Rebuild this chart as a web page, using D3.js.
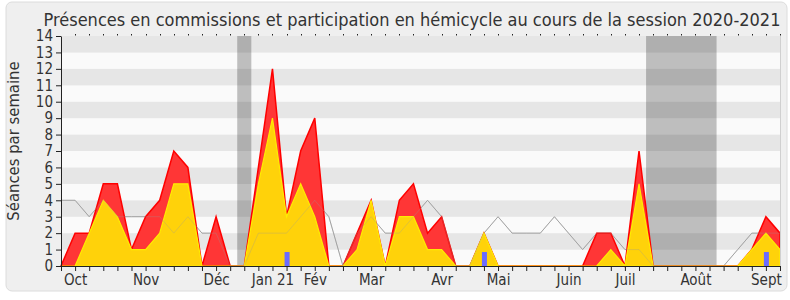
<!DOCTYPE html>
<html lang="fr">
<head>
<meta charset="UTF-8" />
<title>Présences 2020-2021</title>
<script src="https://cdn.jsdelivr.net/npm/d3@7"></script>
<style>
  body { margin: 0; background: #fff; }
  svg text { font-family: "DejaVu Sans Condensed", "DejaVu Sans", sans-serif; font-stretch: condensed; fill: #333; }
</style>
</head>
<body>
<svg id="chart" width="790" height="300"></svg>
<script>
// one value per week, week 0 = start of October 2020
var presences   = [0,2,2,5,5,1,3,4,7,6,0,3,0,0,6,12,3,7,9,0,0,2,4,0,4,5,2,3,0,0,2,0,0,0,0,0,0,0,2,2,0,7,0,0,0,0,0,0,0,1,3,2];
var commissions = [0,0,2,4,3,1,1,2,5,5,0,0,0,0,5,9,3,5,3,0,0,1,4,0,3,3,1,1,0,0,2,0,0,0,0,0,0,0,0,1,0,5,0,0,0,0,0,0,0,1,2,1];
var mediane     = [4,4,3,4,3,3,3,3,2,3,2,2,0,0,2,2,2,3,4,3,0,2,3,2,2,3,4,3,0,0,2,3,2,2,2,3,2,1,2,2,1,1,0,0,0,0,0,0,1,2,2,2];

var questionWeeks  = [16, 30, 50];
var questionValues = [0.85, 0.85, 0.85];

var vacancesDebut = [12.5, 41.5];
var vacancesFin   = [13.5, 46.5];

var monthLabels = ["Oct", "Nov", "Déc", "Jan 21", "Fév", "Mar", "Avr", "Mai", "Juin", "Juil", "Août", "Sept"];
var monthWeeks  = [1, 6, 11, 15, 18, 22, 27, 31, 36, 40, 45, 50];

var yTicks = d3.range(0, 15);

// sizes
var pLeft = 61, pRight = 780, pTop = 36, pBottom = 266;

var svg = d3.select("#chart");

// outer panel
svg.append("rect")
  .attr("x", 6).attr("y", 2)
  .attr("width", 781).attr("height", 289)
  .attr("rx", 6)
  .attr("fill", "#efefef")
  .attr("stroke", "#dcdcdc");

var xScale = d3.scaleLinear().domain([0, presences.length - 1]).range([pLeft, pRight]);
var yScale = d3.scaleLinear().domain([0, 14]).range([pBottom, pTop]);

// stripes
svg.append("g").selectAll("rect")
  .data(d3.range(0, 14))
  .enter().append("rect")
  .attr("x", pLeft)
  .attr("width", pRight - pLeft)
  .attr("y", function(d) { return yScale(d + 1); })
  .attr("height", function(d) { return yScale(d) - yScale(d + 1); })
  .attr("fill", function(d) { return d % 2 ? "#e6e6e6" : "#fafafa"; });

// holidays
svg.append("g").selectAll("rect")
  .data(vacancesDebut)
  .enter().append("rect")
  .attr("x", function(d) { return xScale(d); })
  .attr("width", function(d, i) { return xScale(vacancesFin[i]) - xScale(d); })
  .attr("y", pTop)
  .attr("height", pBottom - pTop)
  .attr("fill", "#000")
  .attr("fill-opacity", 0.24);

// median line (under the areas, and a faint copy on top)
var line = d3.line()
  .x(function(d, i) { return xScale(i); })
  .y(function(d) { return yScale(d); });

svg.append("path")
  .datum(mediane)
  .attr("d", line)
  .attr("fill", "none")
  .attr("stroke", "#a8a8a8")
  .attr("stroke-width", 1);

// areas
var area = d3.area()
  .x(function(d, i) { return xScale(i); })
  .y0(yScale(0))
  .y1(function(d) { return yScale(d); });

svg.append("path")
  .datum(presences)
  .attr("d", area)
  .attr("fill", "#ff3636")
  .attr("stroke", "#ff0000")
  .attr("stroke-width", 1.5);

svg.append("path")
  .datum(commissions)
  .attr("d", area)
  .attr("fill", "#ffd20a")
  .attr("stroke", "#ffec00")
  .attr("stroke-width", 1.2);

svg.append("path")
  .datum(mediane)
  .attr("d", line)
  .attr("fill", "none")
  .attr("stroke", "#999")
  .attr("stroke-opacity", 0.3)
  .attr("stroke-width", 1);

// questions
svg.append("g").selectAll("rect")
  .data(questionWeeks)
  .enter().append("rect")
  .attr("x", function(d) { return xScale(d) - 2; })
  .attr("width", 5)
  .attr("y", function(d, i) { return yScale(questionValues[i]); })
  .attr("height", function(d, i) { return yScale(0) - yScale(questionValues[i]); })
  .attr("fill", "#6b6bff");

// right border
svg.append("line")
  .attr("x1", pRight + 0.5).attr("x2", pRight + 0.5)
  .attr("y1", pTop).attr("y2", pBottom)
  .attr("stroke", "#d0d0d0");

// top dots
svg.append("g").selectAll("rect")
  .data(d3.range(1, presences.length))
  .enter().append("rect")
  .attr("x", function(d) { return Math.round(xScale(d)); })
  .attr("y", pTop - 2)
  .attr("width", 1).attr("height", 1.5)
  .attr("fill", "#222");

// axes
var xAxis = d3.axisBottom(xScale)
  .tickValues(d3.range(0, presences.length))
  .tickFormat("")
  .tickSize(5)
  .tickSizeOuter(0);

svg.append("g")
  .attr("class", "x-axis")
  .attr("transform", "translate(0," + pBottom + ")")
  .call(xAxis);

var monthAxis = d3.axisBottom(xScale)
  .tickValues(monthWeeks)
  .tickFormat(function(d, i) { return monthLabels[i]; })
  .tickSize(0)
  .tickPadding(8);

svg.append("g")
  .attr("class", "month-axis")
  .attr("transform", "translate(0," + pBottom + ")")
  .call(monthAxis)
  .call(function(g) { g.select(".domain").remove(); });

var yAxis = d3.axisLeft(yScale)
  .tickValues(yTicks)
  .tickFormat(d3.format("d"))
  .tickSize(5)
  .tickPadding(3)
  .tickSizeOuter(0);

svg.append("g")
  .attr("class", "y-axis")
  .attr("transform", "translate(" + pLeft + ",0)")
  .call(yAxis);

svg.selectAll(".x-axis path, .x-axis line, .y-axis path, .y-axis line").attr("stroke", "#222");
svg.selectAll(".month-axis text, .y-axis text")
  .attr("font-size", 15)
  .attr("font-family", null)
  .style("fill", "#333");

// titles
svg.append("text")
  .attr("x", 412)
  .attr("y", 26)
  .attr("text-anchor", "middle")
  .style("font-size", "18px")
  .text("Présences en commissions et participation en hémicycle au cours de la session 2020-2021");

svg.append("text")
  .attr("transform", "translate(19,141) rotate(-90)")
  .attr("text-anchor", "middle")
  .style("font-size", "16.5px")
  .text("Séances par semaine");
</script>
</body>
</html>
